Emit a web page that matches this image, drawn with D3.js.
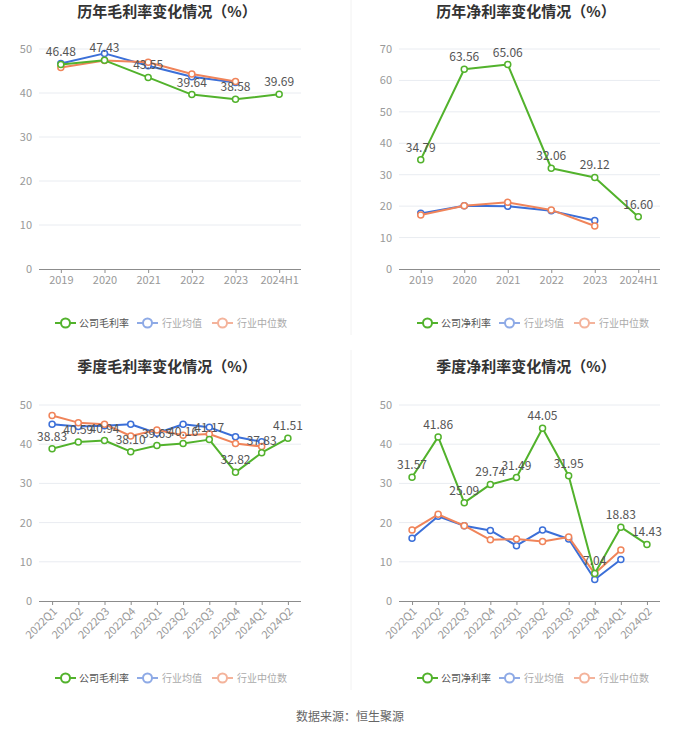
<!DOCTYPE html>
<html><head><meta charset="utf-8">
<script src="https://cdn.jsdelivr.net/npm/d3@7/dist/d3.min.js"></script>
<style>
html,body{margin:0;padding:0;background:#fff;}
svg{display:block;font-family:"Noto Sans CJK SC","Noto Sans",sans-serif;}
</style></head>
<body><svg id="c" width="700" height="734"></svg>
<script>
// ---------- data ----------
const yearCats = ["2019","2020","2021","2022","2023","2024H1"];
const quarterCats = ["2022Q1","2022Q2","2022Q3","2022Q4","2023Q1","2023Q2","2023Q3","2023Q4","2024Q1","2024Q2"];

const annualGrossCompany = [46.48, 47.43, 43.55, 39.64, 38.58, 39.69];
const annualGrossMean    = [46.7, 49.0, 46.2, 43.7, 42.4, null];
const annualGrossMedian  = [45.8, 47.4, 47.0, 44.3, 42.6, null];

const annualNetCompany = [34.79, 63.56, 65.06, 32.06, 29.12, 16.60];
const annualNetMean    = [17.7, 20.1, 20.0, 18.5, 15.4, null];
const annualNetMedian  = [17.2, 20.1, 21.2, 18.8, 13.7, null];

const quarterGrossCompany = [38.83, 40.59, 40.94, 38.10, 39.65, 40.16, 41.17, 32.82, 37.83, 41.51];
const quarterGrossMean    = [45.1, 44.5, 44.7, 45.1, 42.8, 45.1, 44.3, 41.9, 40.6, null];
const quarterGrossMedian  = [47.3, 45.5, 45.1, 42.1, 43.6, 42.3, 42.6, 40.2, 39.4, null];

const quarterNetCompany = [31.57, 41.86, 25.09, 29.74, 31.49, 44.05, 31.95, 7.04, 18.83, 14.43];
const quarterNetMean    = [16.0, 21.6, 19.2, 18.0, 14.1, 18.1, 15.8, 5.5, 10.6, null];
const quarterNetMedian  = [18.1, 22.1, 19.2, 15.6, 15.8, 15.2, 16.3, 7.0, 13.0, null];

const ticks50 = [0, 10, 20, 30, 40, 50];
const ticks70 = [0, 10, 20, 30, 40, 50, 60, 70];

const titles = ["历年毛利率变化情况（%）", "历年净利率变化情况（%）", "季度毛利率变化情况（%）", "季度净利率变化情况（%）"];
const grossLegend = ["公司毛利率", "行业均值", "行业中位数"];
const netLegend = ["公司净利率", "行业均值", "行业中位数"];
const sourceText = "数据来源：恒生聚源";

// ---------- style ----------
const GREEN = "#52b22c", BLUE = "#3b6fd8", ORANGE = "#f0845a";
const svg = d3.select("#c");

// divider lines
svg.append("line").attr("x1",351).attr("x2",351).attr("y1",0).attr("y2",335).attr("stroke","#f2f2f2");
svg.append("line").attr("x1",351).attr("x2",351).attr("y1",350).attr("y2",690).attr("stroke","#f2f2f2");

function panel(o) {
  const g = svg.append("g");
  const x = d3.scalePoint().domain(o.cats).range([o.x0, o.x1]).padding(0.5);
  const y = d3.scaleLinear().domain([0, o.ticks[o.ticks.length-1]]).range([o.yb, o.yt]);

  // title
  g.append("text").attr("x", o.tx).attr("y", o.ty).attr("text-anchor","middle")
    .attr("font-size", 15).attr("font-weight","bold").attr("fill","#333").text(o.title);

  // grid
  g.selectAll(".grid").data(o.ticks.filter(t => t > 0)).join("line")
    .attr("x1", o.x0).attr("x2", o.x1).attr("y1", d => y(d)).attr("y2", d => y(d))
    .attr("stroke", "#e9ecf1").attr("stroke-width", 1);

  // y axis labels
  g.selectAll(".yl").data(o.ticks).join("text")
    .attr("x", o.x0 - 7).attr("y", d => y(d) + 4).attr("text-anchor","end")
    .attr("font-size", 11).attr("fill","#999").text(d => d);

  // x axis
  const xa = d3.axisBottom(x).tickSize(4).tickSizeOuter(0);
  const ax = g.append("g").attr("transform", `translate(0,${o.yb})`).call(xa);
  ax.select(".domain").attr("stroke","#8c8c8c").attr("d", `M${o.x0},0.5H${o.x1}`);
  ax.selectAll(".tick line").attr("stroke","#8c8c8c");
  ax.selectAll(".tick text").attr("fill","#999").attr("font-size", 11)
    .attr("font-family",'"Noto Sans CJK SC","Noto Sans",sans-serif');
  if (o.rotate) {
    ax.selectAll(".tick text").attr("text-anchor","end").attr("dy", null)
      .attr("transform","translate(3,9) rotate(-45)").attr("y",0).attr("x",0)
      .attr("dominant-baseline","middle");
  } else {
    ax.selectAll(".tick text").attr("y", 7);
  }

  // series
  const series = [
    {vals: o.mean, color: BLUE},
    {vals: o.median, color: ORANGE},
    {vals: o.company, color: GREEN}
  ];
  series.forEach(s => {
    const pts = o.cats.map((c, i) => ({c, v: s.vals[i]})).filter(p => p.v != null);
    const line = d3.line().x(p => x(p.c)).y(p => y(p.v));
    g.append("path").datum(pts).attr("d", line).attr("fill","none")
      .attr("stroke", s.color).attr("stroke-width", 2).attr("stroke-linejoin","round");
    g.selectAll(null).data(pts).join("circle")
      .attr("cx", p => x(p.c)).attr("cy", p => y(p.v)).attr("r", 3)
      .attr("fill","#fff").attr("stroke", s.color).attr("stroke-width", 1.5);
  });
  // labels on top
  const lp = o.cats.map((c, i) => ({c, v: o.company[i]}));
  g.selectAll(null).data(lp).join("text")
    .attr("x", p => x(p.c)).attr("y", p => y(p.v) - 8).attr("text-anchor","middle")
    .attr("font-size", 12).attr("fill","#555").text(p => p.v.toFixed(2));

  // legend
  const lg = g.append("g").attr("transform", `translate(${o.lx},${o.ly})`);
  const items = [
    {label: o.legend[0], color: GREEN, text: "#555", ix: 0, tx: 24},
    {label: o.legend[1], color: "#8eaae6", text: "#aaa", ix: 82, tx: 107},
    {label: o.legend[2], color: "#f4b39b", text: "#aaa", ix: 157, tx: 182}
  ];
  items.forEach(it => {
    lg.append("line").attr("x1", it.ix).attr("x2", it.ix + 21).attr("y1",0).attr("y2",0)
      .attr("stroke", it.color).attr("stroke-width", 2);
    lg.append("circle").attr("cx", it.ix + 10.5).attr("cy", 0).attr("r", 4.5)
      .attr("fill","#fff").attr("stroke", it.color).attr("stroke-width", 2);
    lg.append("text").attr("x", it.tx).attr("y", 3.5).attr("font-size", 10)
      .attr("fill", it.text).text(it.label);
  });
}

panel({cats: yearCats, company: annualGrossCompany, mean: annualGrossMean, median: annualGrossMedian,
  ticks: ticks50, x0: 39, x1: 301, yb: 269, yt: 49, title: titles[0], tx: 167, ty: 17,
  legend: grossLegend, lx: 55, ly: 323, rotate: false});
panel({cats: yearCats, company: annualNetCompany, mean: annualNetMean, median: annualNetMedian,
  ticks: ticks70, x0: 399, x1: 660, yb: 269, yt: 49, title: titles[1], tx: 526, ty: 17,
  legend: netLegend, lx: 417, ly: 323, rotate: false});
panel({cats: quarterCats, company: quarterGrossCompany, mean: quarterGrossMean, median: quarterGrossMedian,
  ticks: ticks50, x0: 39, x1: 301, yb: 601, yt: 405, title: titles[2], tx: 167, ty: 372,
  legend: grossLegend, lx: 55, ly: 678, rotate: true});
panel({cats: quarterCats, company: quarterNetCompany, mean: quarterNetMean, median: quarterNetMedian,
  ticks: ticks50, x0: 399, x1: 660, yb: 601, yt: 405, title: titles[3], tx: 526, ty: 372,
  legend: netLegend, lx: 417, ly: 678, rotate: true});

svg.append("text").attr("x", 350).attr("y", 721).attr("text-anchor","middle")
  .attr("font-size", 12).attr("fill","#666").text(sourceText);
</script></body></html>
